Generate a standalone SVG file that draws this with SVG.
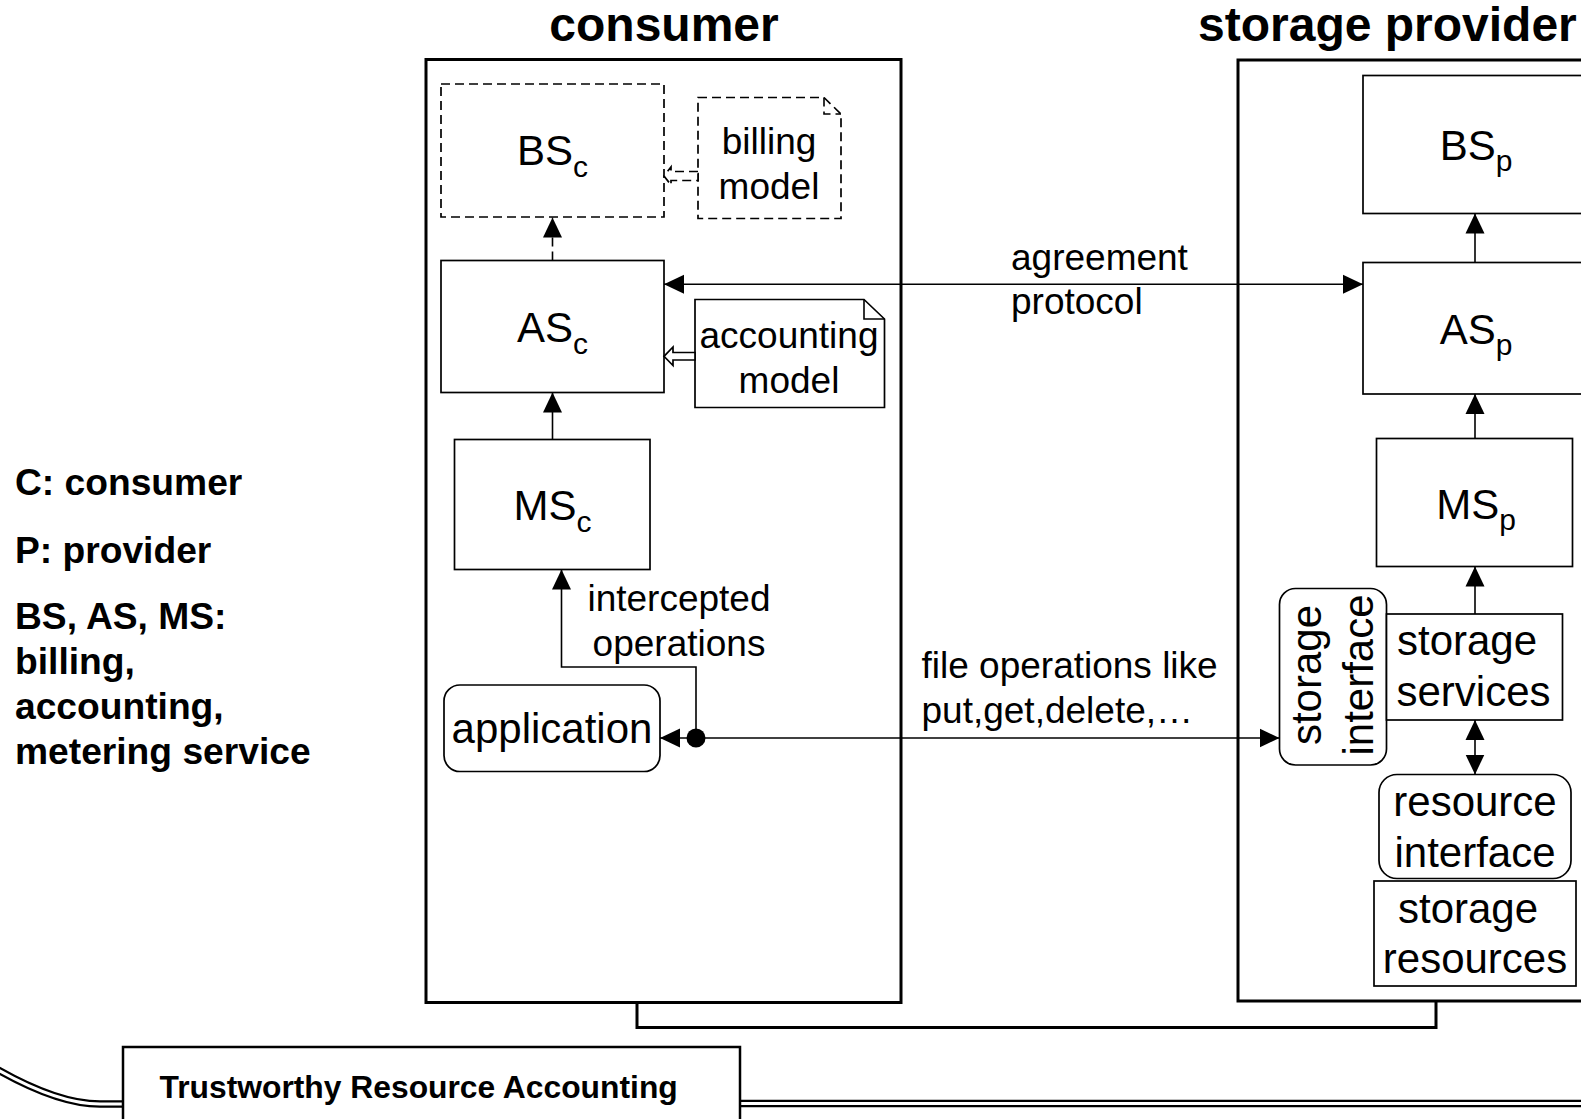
<svg xmlns="http://www.w3.org/2000/svg" width="1581" height="1119" viewBox="0 0 1581 1119">
  <style>
    text { font-family: "Liberation Sans", Arial, sans-serif; fill: #000; }
    .title { font-size: 48px; font-weight: bold; }
    .legend { font-size: 37.2px; font-weight: bold; }
    .node { font-size: 42px; }
    .sub { font-size: 30px; }
    .label { font-size: 37px; }
    .box { fill: #fff; stroke: #000; stroke-width: 1.7; }
    .dash { stroke-dasharray: 9 5; }
    .frame { fill: none; stroke: #000; stroke-width: 3; }
    .wire { fill: none; stroke: #000; stroke-width: 1.6; }
  </style>
  <defs>
    <marker id="arrow" viewBox="0 0 20 20" refX="20" refY="10" markerWidth="20" markerHeight="20" markerUnits="userSpaceOnUse" orient="auto-start-reverse">
      <path d="M0,0.5 L20,10 L0,19.5 Z" fill="#000"/>
    </marker>
  </defs>

  <rect width="1581" height="1119" fill="#fff"/>

  <!-- legend -->
  <g id="legend">
    <text class="legend" x="15" y="495">C: consumer</text>
    <text class="legend" x="15" y="563">P: provider</text>
    <text class="legend" x="15" y="629">BS, AS, MS:</text>
    <text class="legend" x="15" y="674">billing,</text>
    <text class="legend" x="15" y="719">accounting,</text>
    <text class="legend" x="15" y="764">metering service</text>
  </g>

  <!-- consumer side -->
  <g id="consumer">
    <text class="title" x="664" y="41" text-anchor="middle">consumer</text>
    <rect class="frame" x="426" y="59.5" width="475" height="943"/>
  </g>

  <!-- storage provider side -->
  <g id="provider">
    <text class="title" x="1198" y="41">storage provider</text>
    <rect class="frame" x="1238" y="60" width="360" height="941"/>
  </g>

  <!-- bracket joining both sides -->
  <g id="link-bracket">
    <path class="frame" d="M637,1003 V1027.5 H1436 V1001"/>
  </g>

  <g id="bs-c">
    <rect class="box dash" x="441" y="84" width="223" height="133"/>
    <text class="node" x="552.5" y="165" text-anchor="middle">BS<tspan class="sub" dy="12">c</tspan></text>
  </g>

  <g id="billing-model">
    <path class="box dash" d="M698,97.5 H824 L841,114 V218.5 H698 Z"/>
    <path class="wire dash" d="M824,97.5 V114 H841" stroke-width="1.3"/>
    <text class="label" x="769" y="154" text-anchor="middle">billing</text>
    <text class="label" x="769" y="199" text-anchor="middle">model</text>
  </g>

  <g id="as-c">
    <rect class="box" x="441" y="260.5" width="223" height="132"/>
    <text class="node" x="552.5" y="342" text-anchor="middle">AS<tspan class="sub" dy="12">c</tspan></text>
  </g>

  <g id="accounting-model">
    <path class="box" d="M695,299.5 H864 L884.5,319 V407.5 H695 Z"/>
    <path class="wire" d="M864,299.5 V319 H884.5" stroke-width="1.3"/>
    <text class="label" x="789" y="348" text-anchor="middle">accounting</text>
    <text class="label" x="789" y="392.5" text-anchor="middle">model</text>
  </g>

  <g id="ms-c">
    <rect class="box" x="454.5" y="439.5" width="195.5" height="130"/>
    <text class="node" x="552.5" y="520" text-anchor="middle">MS<tspan class="sub" dy="12">c</tspan></text>
  </g>

  <g id="application">
    <rect class="box" x="444" y="685" width="216" height="86.5" rx="16"/>
    <text class="node" x="552" y="743" text-anchor="middle">application</text>
  </g>

  <g id="bs-p">
    <rect class="box" x="1363" y="75.5" width="224" height="138"/>
    <text class="node" x="1476" y="159.5" text-anchor="middle">BS<tspan class="sub" dy="11">p</tspan></text>
  </g>

  <g id="as-p">
    <rect class="box" x="1363" y="262.5" width="224" height="131.5"/>
    <text class="node" x="1476" y="344" text-anchor="middle">AS<tspan class="sub" dy="11">p</tspan></text>
  </g>

  <g id="ms-p">
    <rect class="box" x="1376.5" y="438.5" width="196" height="128"/>
    <text class="node" x="1476" y="519" text-anchor="middle">MS<tspan class="sub" dy="11">p</tspan></text>
  </g>

  <g id="storage-interface">
    <rect class="box" x="1279.5" y="588.5" width="107" height="176.5" rx="16"/>
    <text class="node" transform="translate(1321,675) rotate(-90)" text-anchor="middle">storage</text>
    <text class="node" transform="translate(1373,675) rotate(-90)" text-anchor="middle">interface</text>
  </g>

  <g id="storage-services">
    <rect class="box" x="1386.5" y="614" width="176" height="106"/>
    <text class="node" x="1397" y="655">storage</text>
    <text class="node" x="1396.5" y="706">services</text>
  </g>

  <g id="resource-interface">
    <rect class="box" x="1379" y="774.5" width="192" height="104" rx="18"/>
    <text class="node" x="1475" y="816" text-anchor="middle">resource</text>
    <text class="node" x="1475" y="867" text-anchor="middle">interface</text>
  </g>

  <g id="storage-resources">
    <rect class="box" x="1374" y="881" width="202" height="105"/>
    <text class="node" x="1398" y="923">storage</text>
    <text class="node" x="1475" y="973" text-anchor="middle">resources</text>
  </g>

  <!-- connectors -->
  <g id="connectors">
    <!-- accounting chain, consumer -->
    <line class="wire dash" x1="552.5" y1="260.5" x2="552.5" y2="217.5" marker-end="url(#arrow)"/>
    <line class="wire" x1="552.5" y1="439.5" x2="552.5" y2="392.5" marker-end="url(#arrow)"/>
    <path class="wire" d="M696,738 V667 H561.5 V569.5" marker-end="url(#arrow)"/>
    <!-- models feeding the services -->
    <path class="box dash" stroke-width="1.4" d="M698,171.5 H671 V167 L664,176 L671,185 V180.5 H698 Z"/>
    <path class="box" stroke-width="1.5" d="M695,352.5 H673 V347 L664,356.3 L673,365.5 V360 H695 Z"/>
    <!-- agreement protocol -->
    <line class="wire" x1="664" y1="284.3" x2="1363" y2="284.3" marker-start="url(#arrow)" marker-end="url(#arrow)"/>
    <text class="label" x="1011" y="270">agreement</text>
    <text class="label" x="1011" y="314">protocol</text>
    <!-- file operations -->
    <line class="wire" x1="696" y1="738" x2="660" y2="738" marker-end="url(#arrow)"/>
    <line class="wire" x1="696" y1="738" x2="1279.5" y2="738" marker-end="url(#arrow)"/>
    <circle cx="696" cy="738" r="9.5" fill="#000"/>
    <text class="label" x="679" y="611" text-anchor="middle">intercepted</text>
    <text class="label" x="679" y="655.5" text-anchor="middle">operations</text>
    <text class="label" x="921.5" y="678">file operations like</text>
    <text class="label" x="921.5" y="722.5">put,get,delete,…</text>
    <!-- accounting chain, provider -->
    <line class="wire" x1="1475" y1="262.5" x2="1475" y2="213.5" marker-end="url(#arrow)"/>
    <line class="wire" x1="1475" y1="438.5" x2="1475" y2="394" marker-end="url(#arrow)"/>
    <line class="wire" x1="1475" y1="614" x2="1475" y2="566.5" marker-end="url(#arrow)"/>
    <line class="wire" x1="1475" y1="720" x2="1475" y2="774.5" marker-start="url(#arrow)" marker-end="url(#arrow)"/>
  </g>

  <!-- banner at the bottom -->
  <g id="banner">
    <path d="M-12,1064 Q55,1104 100,1104 H124" fill="none" stroke="#000" stroke-width="7.5"/>
    <path d="M-12,1064 Q55,1104 100,1104 H124" fill="none" stroke="#fff" stroke-width="3"/>
    <path d="M739,1103.5 H1595" fill="none" stroke="#000" stroke-width="7.5"/>
    <path d="M739,1103.5 H1595" fill="none" stroke="#fff" stroke-width="3"/>
    <rect x="123" y="1047" width="617" height="100" fill="#fff" stroke="#000" stroke-width="2.5"/>
    <text x="159.5" y="1098" font-size="31.8" font-weight="bold">Trustworthy Resource Accounting</text>
  </g>
</svg>
